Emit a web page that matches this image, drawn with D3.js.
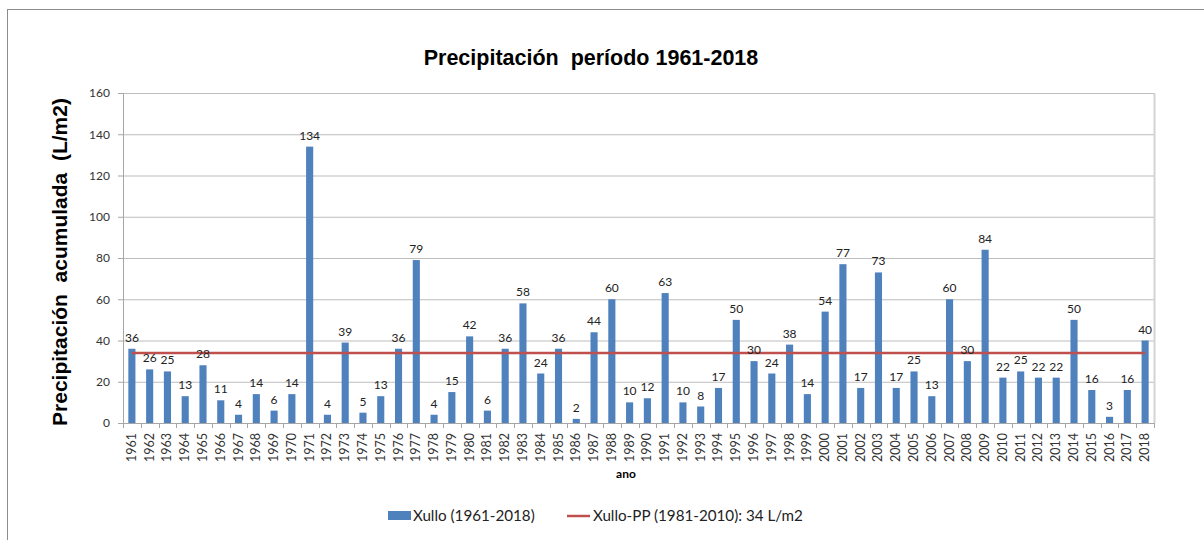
<!DOCTYPE html>
<html lang="en">
<head>
    <meta charset="UTF-8">
    <title>Precipitación período 1961-2018</title>
    <script src="https://d3js.org/d3.v7.min.js"></script>
    <style>
        body {
            margin: 0;
            background-color: #fff;
        }

        .tick text {
            font-family: Lato, "Open Sans", sans-serif;
            font-size: 12px;
            fill: #333;
        }

        .bar-label {
            font-family: Lato, "Open Sans", sans-serif;
            font-size: 12px;
            fill: #222;
            text-anchor: middle;
        }

        .legend text {
            font-family: Lato, "Open Sans", sans-serif;
            font-size: 15.2px;
            fill: #222;
        }
    </style>
</head>
<body>
    <svg id="chart" width="1204" height="540"></svg>
    <script>
        // Data
        const years = d3.range(1961, 2019).map(String);
        const rainfall = [36, 26, 25, 13, 28, 11, 4, 14, 6, 14,
                          134, 4, 39, 5, 13, 36, 79, 4, 15, 42,
                          6, 36, 58, 24, 36, 2, 44, 60, 10, 12,
                          63, 10, 8, 17, 50, 30, 24, 38, 14, 54,
                          77, 17, 73, 17, 25, 13, 60, 30, 84, 22,
                          25, 22, 22, 50, 16, 3, 16, 40];
        const normalValue = 34;
        const yTicks = [0, 20, 40, 60, 80, 100, 120, 140, 160];

        const barColor = "#4f81bd",
              lineColor = "#c0504d";

        // Plot area
        const margin = { top: 93, right: 50, bottom: 117, left: 123 },
              width = 1204 - margin.left - margin.right,
              height = 540 - margin.top - margin.bottom;

        const svg = d3.select("#chart");

        // Outer frame
        svg.append("rect")
           .attr("x", 7.5).attr("y", 9.5)
           .attr("width", 1210).attr("height", 540)
           .attr("fill", "none")
           .attr("stroke", "#8c8c8c")
           .attr("stroke-width", 1);

        const g = svg.append("g")
                     .attr("transform", `translate(${margin.left},${margin.top})`);

        // Scales
        const x = d3.scaleBand()
                    .domain(years)
                    .range([0, width])
                    .paddingInner(0.6)
                    .paddingOuter(0.3);

        const y = d3.scaleLinear()
                    .domain([0, 160])
                    .range([height, 0]);

        // Gridlines
        g.append("g")
         .selectAll("line")
         .data(yTicks.slice(1))
         .enter()
         .append("line")
         .attr("x1", 0).attr("x2", width)
         .attr("y1", d => y(d) + 0.5).attr("y2", d => y(d) + 0.5)
         .attr("stroke", "#bdbdbd");

        // Right frame of plot area
        g.append("line")
         .attr("x1", width + 0.5).attr("x2", width + 0.5)
         .attr("y1", 0).attr("y2", height)
         .attr("stroke", "#d4d4d4").attr("stroke-width", 2);

        // Y axis
        const yAxis = g.append("g")
                       .call(d3.axisLeft(y).tickValues(yTicks).tickSize(5).tickPadding(8));
        yAxis.select(".domain").attr("stroke", "#a6a6a6");
        yAxis.selectAll(".tick line").attr("stroke", "#a6a6a6");

        // X axis: tick marks sit between categories
        const xAxisG = g.append("g").attr("transform", `translate(0,${height})`);
        xAxisG.append("line")
              .attr("x1", 0).attr("x2", width)
              .attr("y1", 0.5).attr("y2", 0.5)
              .attr("stroke", "#a6a6a6");
        const step = x.step();
        xAxisG.selectAll(".sep")
              .data(d3.range(years.length + 1))
              .enter()
              .append("line")
              .attr("x1", i => Math.round(i * step) + 0.5)
              .attr("x2", i => Math.round(i * step) + 0.5)
              .attr("y1", 0).attr("y2", 5)
              .attr("stroke", "#a6a6a6");
        xAxisG.selectAll(".year")
              .data(years)
              .enter()
              .append("text")
              .attr("class", "year")
              .attr("transform", d => `translate(${x(d) + x.bandwidth() / 2 + 4},${10}) rotate(-90)`)
              .attr("text-anchor", "end")
              .style("font-family", "Lato, 'Open Sans', sans-serif")
              .style("font-size", "12.5px")
              .style("fill", "#333")
              .text(d => d);

        // Bars
        g.selectAll(".bar")
         .data(years)
         .enter()
         .append("rect")
         .attr("class", "bar")
         .attr("x", d => x(d))
         .attr("y", (d, i) => y(rainfall[i]))
         .attr("width", x.bandwidth())
         .attr("height", (d, i) => height - y(rainfall[i]))
         .attr("fill", barColor);

        // Normal reference line
        g.append("line")
         .attr("x1", x(years[0]) + x.bandwidth() / 2)
         .attr("x2", x(years[years.length - 1]) + x.bandwidth() / 2)
         .attr("y1", y(normalValue))
         .attr("y2", y(normalValue))
         .attr("stroke", lineColor)
         .attr("stroke-width", 2.5);

        // Bar labels
        g.selectAll(".bar-label")
         .data(years)
         .enter()
         .append("text")
         .attr("class", "bar-label")
         .attr("x", d => x(d) + x.bandwidth() / 2)
         .attr("y", (d, i) => y(rainfall[i]) - 7)
         .text((d, i) => rainfall[i]);

        // Title
        svg.append("text")
           .attr("x", 591)
           .attr("y", 65)
           .attr("text-anchor", "middle")
           .style("font-family", "'Liberation Sans', Arial, sans-serif")
           .style("font-weight", "bold")
           .style("font-size", "21.5px")
           .style("white-space", "pre")
           .text("Precipitación  período 1961-2018");

        // Y axis label
        svg.append("text")
           .attr("transform", "translate(67,262) rotate(-90)")
           .attr("text-anchor", "middle")
           .style("font-family", "'Liberation Sans', Arial, sans-serif")
           .style("font-weight", "bold")
           .style("font-size", "21px")
           .style("white-space", "pre")
           .text("Precipitación  acumulada  (L/m2)");

        // X axis label
        svg.append("text")
           .attr("x", 626)
           .attr("y", 478)
           .attr("text-anchor", "middle")
           .style("font-family", "Lato, 'Open Sans', sans-serif")
           .style("font-weight", "bold")
           .style("font-size", "12px")
           .text("ano");

        // Legend
        const legend = svg.append("g").attr("class", "legend");
        legend.append("rect")
              .attr("x", 388).attr("y", 511)
              .attr("width", 23).attr("height", 9)
              .attr("fill", barColor);
        legend.append("text")
              .attr("x", 413).attr("y", 521)
              .text("Xullo (1961-2018)");
        legend.append("line")
              .attr("x1", 567).attr("x2", 590)
              .attr("y1", 516).attr("y2", 516)
              .attr("stroke", lineColor)
              .attr("stroke-width", 2.5);
        legend.append("text")
              .attr("x", 593).attr("y", 521)
              .text("Xullo-PP (1981-2010): 34 L/m2");
    </script>
</body>
</html>
